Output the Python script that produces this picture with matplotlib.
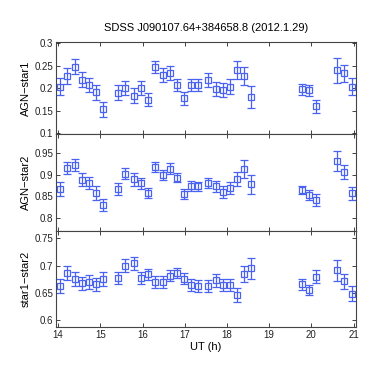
import matplotlib
matplotlib.use("Agg")
import matplotlib.pyplot as plt

ut = [14.05, 14.22, 14.39, 14.56, 14.72, 14.89, 15.07, 15.41, 15.58, 15.80,
      15.96, 16.13, 16.30, 16.48, 16.64, 16.82, 16.98, 17.16, 17.32, 17.55,
      17.73, 17.90, 18.07, 18.24, 18.41, 18.58, 19.78, 19.94, 20.11, 20.61,
      20.78, 20.96]

agn_star1 = [0.204, 0.228, 0.248, 0.219, 0.207, 0.191, 0.153, 0.190, 0.201, 0.184,
             0.201, 0.175, 0.247, 0.229, 0.234, 0.207, 0.178, 0.208, 0.208, 0.218,
             0.199, 0.196, 0.204, 0.241, 0.228, 0.181, 0.198, 0.196, 0.160, 0.240,
             0.233, 0.204]
agn_star1_err = [0.019, 0.018, 0.017, 0.017, 0.016, 0.016, 0.017, 0.017, 0.016, 0.016,
                 0.016, 0.015, 0.014, 0.016, 0.015, 0.013, 0.014, 0.013, 0.013, 0.015,
                 0.015, 0.016, 0.017, 0.020, 0.020, 0.025, 0.012, 0.012, 0.015, 0.028,
                 0.018, 0.019]

agn_star2 = [0.867, 0.915, 0.922, 0.888, 0.880, 0.858, 0.830, 0.867, 0.902, 0.889,
             0.880, 0.858, 0.917, 0.899, 0.914, 0.893, 0.856, 0.874, 0.873, 0.881,
             0.873, 0.861, 0.870, 0.889, 0.913, 0.878, 0.865, 0.854, 0.842, 0.931,
             0.905, 0.857]
agn_star2_err = [0.015, 0.014, 0.014, 0.015, 0.014, 0.015, 0.014, 0.014, 0.013, 0.014,
                 0.012, 0.012, 0.012, 0.012, 0.012, 0.011, 0.011, 0.011, 0.011, 0.012,
                 0.013, 0.014, 0.014, 0.016, 0.020, 0.022, 0.010, 0.011, 0.013, 0.023,
                 0.016, 0.015]

star1_star2 = [0.663, 0.686, 0.676, 0.668, 0.670, 0.666, 0.676, 0.677, 0.700, 0.704,
               0.677, 0.684, 0.670, 0.670, 0.681, 0.687, 0.676, 0.664, 0.663, 0.663,
               0.673, 0.664, 0.665, 0.647, 0.685, 0.695, 0.666, 0.656, 0.680, 0.691,
               0.671, 0.649]
star1_star2_err = [0.013, 0.013, 0.013, 0.012, 0.012, 0.012, 0.013, 0.011, 0.012, 0.012,
                   0.011, 0.010, 0.011, 0.011, 0.010, 0.009, 0.010, 0.011, 0.011, 0.011,
                   0.012, 0.011, 0.011, 0.013, 0.015, 0.019, 0.010, 0.009, 0.012, 0.020,
                   0.013, 0.013]

ylabels = ["AGN\u2212star1", "AGN\u2212star2", "star1\u2212star2"]
yticks = [[0.1, 0.15, 0.2, 0.25, 0.3], [0.8, 0.85, 0.9, 0.95], [0.6, 0.65, 0.7, 0.75]]
ytick_labels = [["0.1", "0.15", "0.2", "0.25", "0.3"], ["0.8", "0.85", "0.9", "0.95"],
                ["0.6", "0.65", "0.7", "0.75"]]
xticks = [14, 15, 16, 17, 18, 19, 20, 21]
title = "SDSS J090107.64+384658.8 (2012.1.29)"

plt.rcParams['font.family'] = ['Liberation Sans', 'DejaVu Sans']

fig = plt.figure(figsize=(3.74, 3.86), dpi=100)
W, H = 374, 386
left = 56 / W
width = (355.7 - 56) / W
panels = [(42, 134), (134, 231), (231, 327)]
ylims = [(0.0985, 0.303), (0.771, 0.993), (0.588, 0.763)]
series = [(agn_star1, agn_star1_err), (agn_star2, agn_star2_err), (star1_star2, star1_star2_err)]

for i, ((top, bot), yl, (vals, errs)) in enumerate(zip(panels, ylims, series)):
    ax = fig.add_axes([left, (H - bot) / H, width, (bot - top) / H])
    ax.errorbar(ut, vals, yerr=errs, fmt='s', color='#3f55ee', ecolor='#4a62f0',
                elinewidth=0.9, capsize=2.8, capthick=0.9,
                markersize=4.2, markerfacecolor='none', markeredgecolor='#4a62f0',
                markeredgewidth=0.9)
    ax.set_xlim(13.95, 21.05)
    ax.set_ylim(*yl)
    ax.set_xticks(xticks)
    ax.set_yticks(yticks[i])
    ax.set_yticklabels(ytick_labels[i])
    ax.tick_params(direction='in', top=True, right=True, length=3, width=0.6,
                   labelsize=7, pad=2, colors='#222222')
    if i < 2:
        ax.tick_params(labelbottom=False)
    else:
        ax.set_xticklabels([str(t) for t in xticks])
        ax.set_xlabel("UT (h)", fontsize=8, labelpad=1.5)
    ax.set_ylabel(ylabels[i], fontsize=8)
    ax.yaxis.set_label_coords(-0.085, 0.5)
    for s in ax.spines.values():
        s.set_linewidth(0.8)
        s.set_color('#444444')
    if i == 0:
        ax.set_title(title, fontsize=8, pad=8)

fig.savefig("out.png", dpi=100)
